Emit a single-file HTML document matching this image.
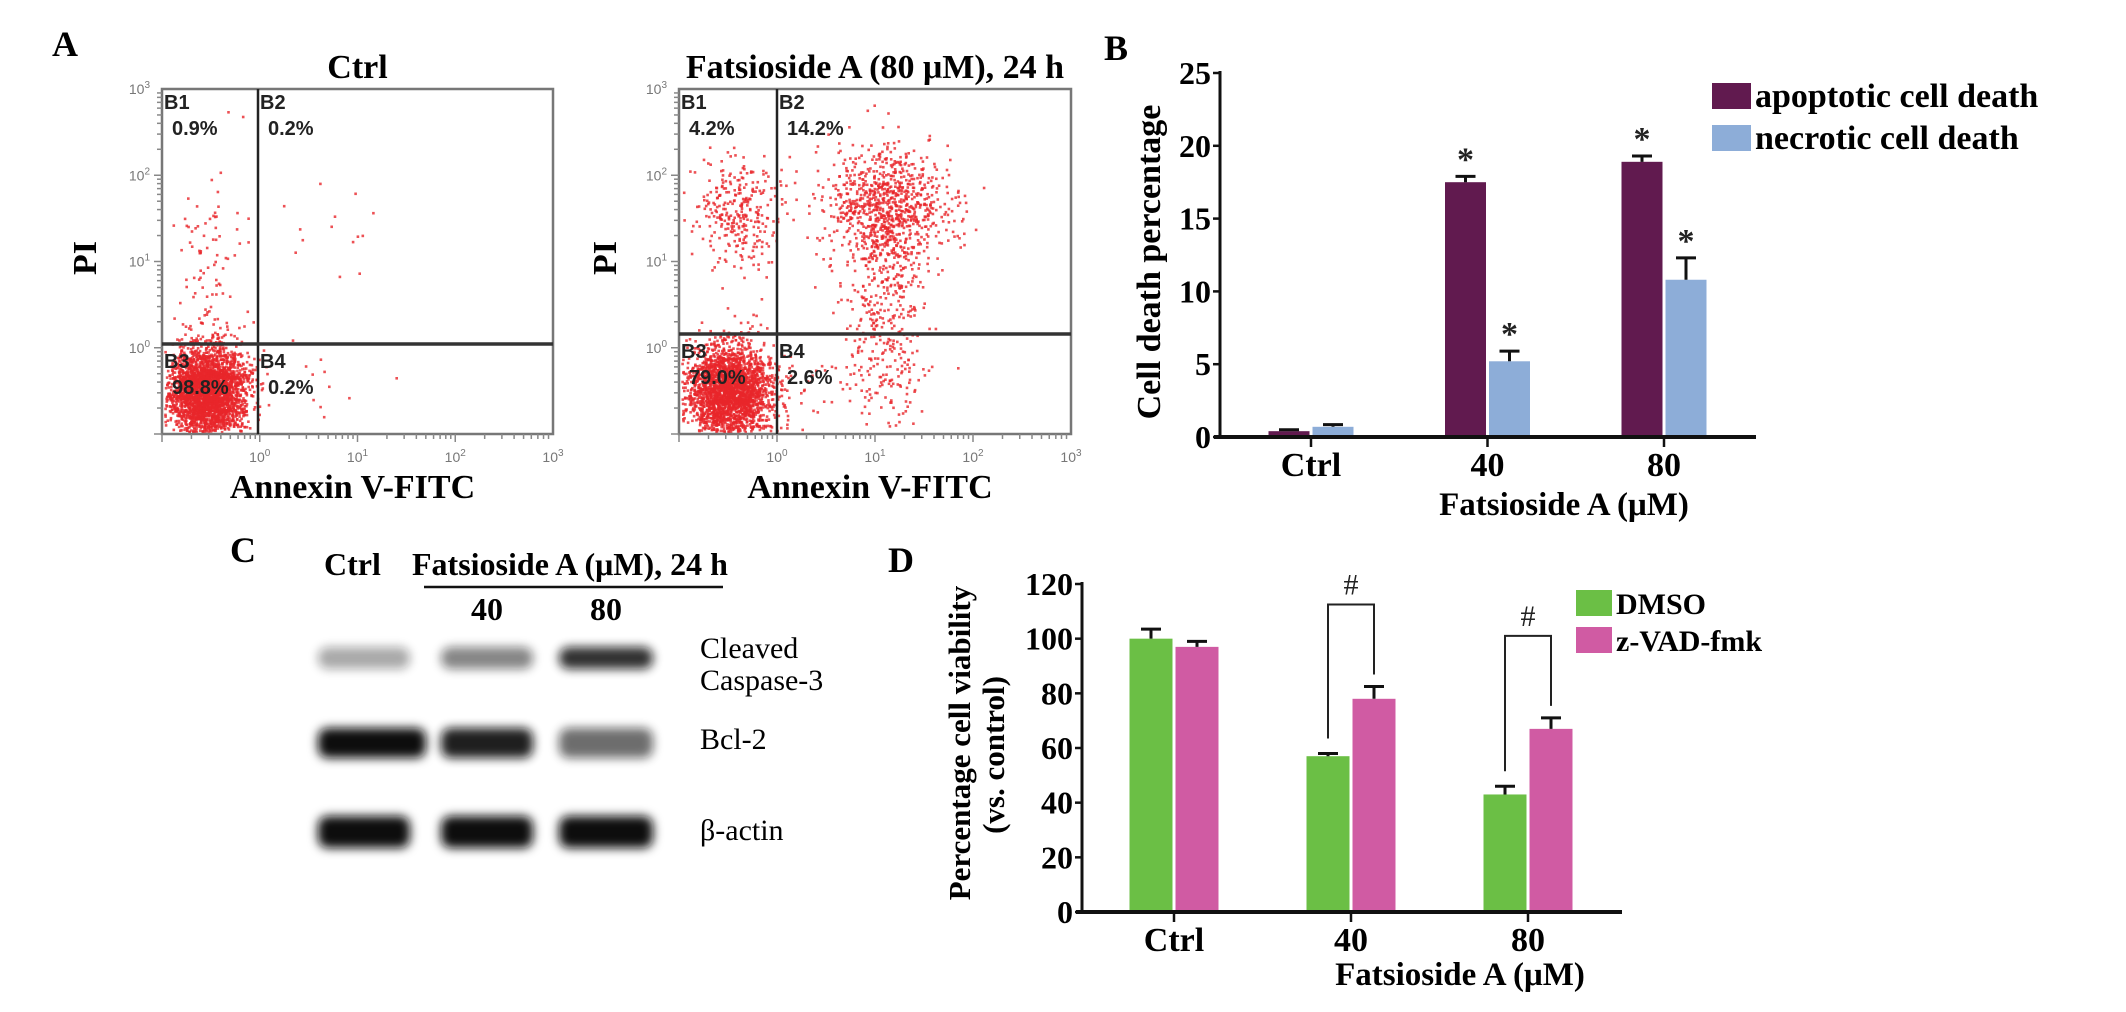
<!DOCTYPE html>
<html><head><meta charset="utf-8"><style>
html,body{margin:0;padding:0;background:#fff;}
svg{display:block;}
text{font-family:"Liberation Serif",serif;}
.b{font-weight:bold;}
.s{font-family:"Liberation Sans",sans-serif;}
</style></head><body>
<svg id="fig" width="2126" height="1012" viewBox="0 0 2126 1012" xmlns="http://www.w3.org/2000/svg">
<defs>
<filter id="blur" x="-20%" y="-60%" width="140%" height="220%"><feGaussianBlur stdDeviation="5"/></filter>
</defs>
<rect width="2126" height="1012" fill="#fff"/>
<text x="52" y="56" class="b" font-size="36">A</text>
<text x="1104" y="60" class="b" font-size="36">B</text>
<text x="230" y="562" class="b" font-size="36">C</text>
<text x="888" y="572" class="b" font-size="36">D</text>

<g id="flowL"></g>
<g id="flowR"></g>
<g id="chartB"></g>
<g id="blot"></g>
<g id="chartD"></g>
</svg>
<script>
// ---------- Panel A data ----------
const flowTitles = ["Ctrl", "Fatsioside A (80 \u03bcM), 24 h"];
const quadLabels = ["B1","B2","B3","B4"];
const ctrlPercents = ["0.9%","0.2%","98.8%","0.2%"];
const treatedPercents = ["4.2%","14.2%","79.0%","2.6%"];
const logTicks = [0,1,2,3];
// cluster definitions: [log10 x center, log10 y center, sd x (decades), sd y (decades), count]
const ctrlClusters = [[-0.55,-0.5,0.2,0.27,3200],[-0.5,1.2,0.15,0.6,80],[0.8,1.6,0.3,0.3,14],[0.6,-0.5,0.4,0.3,12]];
const treatedClusters = [[-0.5,-0.5,0.22,0.27,2600],[-0.4,1.6,0.22,0.32,300],[1.1,1.6,0.32,0.35,900],[1.1,0.6,0.2,0.5,260],[1.0,-0.4,0.35,0.3,110]];

// ---------- Panel B data ----------
const bCategories = ["Ctrl","40","80"];
const apoptotic = [0.4, 17.5, 18.9];
const apoptoticErr = [0.1, 0.4, 0.4];
const necrotic = [0.7, 5.2, 10.8];
const necroticErr = [0.15, 0.7, 1.5];
const bStars = [false, true, true];
const bTicks = [0,5,10,15,20,25];

// ---------- Panel D data ----------
const dCategories = ["Ctrl","40","80"];
const dmso = [100, 57, 43];
const dmsoErr = [3.5, 1, 3];
const zvad = [97, 78, 67];
const zvadErr = [2, 4.5, 4];
const dSig = [false, true, true];
const dTicks = [0,20,40,60,80,100,120];

// ---------- Panel C data ----------
const blotLanes = ["Ctrl","40","80"];
const blotProteins = ["Cleaved Caspase-3","Bcl-2","\u03b2-actin"];
const caspaseIntensity = [0.35, 0.5, 0.85];
const bcl2Intensity = [1.0, 0.92, 0.6];
const actinIntensity = [1.0, 1.0, 1.0];

const NS = "http://www.w3.org/2000/svg";
function mk(tag, attrs, parent, txt){
  const e = document.createElementNS(NS, tag);
  for (const k in attrs) e.setAttribute(k, attrs[k]);
  if (txt !== undefined) e.textContent = txt;
  parent.appendChild(e);
  return e;
}
function rng(seed){return function(){seed|=0;seed=seed+0x6D2B79F5|0;let t=Math.imul(seed^seed>>>15,1|seed);t=t+Math.imul(t^t>>>7,61|t)^t;return((t^t>>>14)>>>0)/4294967296;};}
function gauss(r){let u=r()||1e-9,v=r();return Math.sqrt(-2*Math.log(u))*Math.cos(2*Math.PI*v);}

function flow(gid, x0, x1, hline, vline, title, percents, clusters, seed, piX){
  const g = document.getElementById(gid);
  const y0 = 89, y1 = 434;
  const dx = (x1 - x0) / 4, dy = (y1 - y0) / 4;
  const sx = v => x0 + (v + 1) * dx;
  const sy = v => y1 - (v + 1) * dy;
  let t = mk('text', {x:(x0+x1)/2, y:78, 'text-anchor':'middle', 'font-size':34, class:'b'}, g, title);
  
  
  const r = rng(seed);
  const dots = mk('g', {fill:'#e8262b'}, g);
  
  
  clusters.forEach(c => {
    for (let i = 0; i < c[4]; i++){
      const px = sx(c[0] + gauss(r)*c[2]), py = sy(c[1] + gauss(r)*c[3]);
      if (px < x0+2 || px > x1-3 || py < y0+2 || py > y1-3) continue;
      mk('rect', {x:px.toFixed(1), y:py.toFixed(1), width:2.6, height:2.6, opacity:0.8}, dots);
    }
  });
  const box = mk('rect', {x:x0, y:y0, width:x1-x0, height:y1-y0, fill:'none', stroke:'#777', 'stroke-width':2.5}, g);
  
  
  const vl = mk('line', {x1:vline, x2:vline, y1:y0, y2:y1, stroke:'#222', 'stroke-width':2.5}, g);
  
  
  const hl = mk('line', {x1:x0, x2:x1, y1:hline, y2:hline, stroke:'#333', 'stroke-width':3.5}, g);
  
  
  for (let d = -1; d < 3; d++){
    for (let m = 1; m < 10; m++){
      const v = d + Math.log10(m);
      const L = m === 1 ? 6 : 3;
      mk('line', {x1:sx(v), x2:sx(v), y1:y1, y2:y1+L+2, stroke:'#888', 'stroke-width':1.5}, g);
      mk('line', {x1:x0, x2:x0-L-2, y1:sy(v), y2:sy(v), stroke:'#888', 'stroke-width':1.5}, g);
    }
  }
  logTicks.forEach(v => {
    let a = mk('text', {x:sx(v), y:462, 'text-anchor':'middle', 'font-size':14, fill:'#777', class:'s'}, g);
    
    
    a.innerHTML = '10<tspan dy="-6" font-size="10">' + v + '</tspan>';
    let b = mk('text', {x:x0-12, y:sy(v)+5, 'text-anchor':'end', 'font-size':14, fill:'#777', class:'s'}, g);
    
    
    b.innerHTML = '10<tspan dy="-6" font-size="10">' + v + '</tspan>';
  });
  const qpos = [[x0+2, y0+20],[vline+2, y0+20],[x0+2, hline+24],[vline+2, hline+24]];
  qpos.forEach((p, i) => {
    let q = mk('text', {x:p[0], y:p[1], 'font-size':20, class:'s b', fill:'#222'}, g, quadLabels[i]);
    
    
    let pc = mk('text', {x:p[0]+8, y:p[1]+26, 'font-size':20, class:'s b', fill:'#222'}, g, percents[i]);
    
    
  });
  let yl = mk('text', {x:0, y:0, transform:`translate(${piX},258) rotate(-90)`, 'text-anchor':'middle', 'font-size':34, class:'b'}, g, 'PI');
  
  
  let xl = mk('text', {x:(x0+x1)/2-5, y:498, 'text-anchor':'middle', 'font-size':34, class:'b'}, g, 'Annexin V-FITC');
  
  
}
flow('flowL', 162, 553, 344, 258, flowTitles[0], ctrlPercents, ctrlClusters, 11, 96);
flow('flowR', 679, 1071, 334, 777, flowTitles[1], treatedPercents, treatedClusters, 23, 616);

function barChart(gid, o){
  const g = document.getElementById(gid);
  const sy = v => o.y0 - (v / o.max) * (o.y0 - o.yTop);
  const cx = i => o.cx0 + i * o.step;
  o.series.forEach((s, si) => {
    s.vals.forEach((v, i) => {
      const x = cx(i) - o.bw - o.gap/2 + si * (o.bw + o.gap);
      const r = mk('rect', {x:x, y:sy(v), width:o.bw, height:o.y0 - sy(v), fill:s.color}, g);
      
      
      const m = x + o.bw/2, top = sy(v + s.err[i]);
      const e = mk('path', {d:`M${m},${sy(v)} V${top} M${m-10},${top} H${m+10}`, stroke:'#111', 'stroke-width':3, fill:'none'}, g);
      
      
      if (o.stars && o.stars[i]){
        const st = mk('text', {x:m, y:top - 6, 'text-anchor':'middle', 'font-size':34, class:'b', fill:'#222'}, g, '*');
        
        
      }
    });
  });
  if (o.sig){
    o.sig.forEach((f, i) => {
      if (!f) return;
      const xa = cx(i) - o.gap/2 - o.bw/2, xb = cx(i) + o.gap/2 + o.bw/2;
      const ya = sy(o.series[0].vals[i] + o.series[0].err[i]) - 15;
      const yb = sy(o.series[1].vals[i] + o.series[1].err[i]) - 12;
      const yt = Math.min(ya, yb) - 70;
      const p = mk('path', {d:`M${xa},${ya} V${yt} H${xb} V${yb}`, stroke:'#222', 'stroke-width':2, fill:'none'}, g);
      
      
      const h = mk('text', {x:(xa+xb)/2, y:yt - 10, 'text-anchor':'middle', 'font-size':30, fill:'#222'}, g, '#');
      
      
    });
  }
  const ya = mk('line', {x1:o.x0, x2:o.x0, y1:o.yTop - 2, y2:o.y0 + 2, stroke:'#111', 'stroke-width':3}, g);
  
  
  const xa = mk('line', {x1:o.x0 - 6, x2:o.xEnd, y1:o.y0, y2:o.y0, stroke:'#111', 'stroke-width':4}, g);
  
  
  o.ticks.forEach(v => {
    mk('line', {x1:o.x0 - 7, x2:o.x0, y1:sy(v), y2:sy(v), stroke:'#111', 'stroke-width':2.5}, g);
    const t = mk('text', {x:o.x0 - 9, y:sy(v) + 11, 'text-anchor':'end', 'font-size':32, class:'b'}, g, v);
    
    
  });
  o.cats.forEach((c, i) => {
    mk('line', {x1:cx(i), x2:cx(i), y1:o.y0, y2:o.y0 + 10, stroke:'#111', 'stroke-width':2.5}, g);
    const t = mk('text', {x:cx(i), y:o.y0 + 39, 'text-anchor':'middle', 'font-size':34, class:'b'}, g, c);
    
    
  });
  const xt = mk('text', {x:o.xtX, y:o.xtY, 'text-anchor':'middle', 'font-size':33, class:'b'}, g, 'Fatsioside A (\u03bcM)');
  
  
  o.ylab.forEach(l => {
    const t = mk('text', {x:0, y:0, transform:`translate(${l.x},${l.y}) rotate(-90)`, 'text-anchor':'middle', 'font-size':l.fs, class:'b'}, g, l.t);
    
    
  });
  o.series.forEach((s, si) => {
    const y = o.legY + si * o.legStep;
    const sw = mk('rect', {x:o.legX, y:y - 13, width:o.legSw, height:26, fill:s.color}, g);
    
    
    const t = mk('text', {x:o.legX + o.legSw + 4, y:y + 11, 'font-size':o.legFs, class:'b'}, g, s.label);
    
    
  });
}

barChart('chartB', {
  x0:1220, y0:437, yTop:73, max:25, xEnd:1756, cx0:1311, step:176.5, bw:41, gap:3,
  cats:bCategories, ticks:bTicks, stars:bStars,
  series:[{key:'apoptotic', label:'apoptotic cell death', vals:apoptotic, err:apoptoticErr, color:'#611a4f'},
          {key:'necrotic', label:'necrotic cell death', vals:necrotic, err:necroticErr, color:'#8dadd8'}],
  xtX:1564, xtY:515, ylab:[{x:1160, y:262, fs:34, t:'Cell death percentage'}],
  legX:1712, legY:96, legStep:42, legSw:39, legFs:34
});

barChart('chartD', {
  x0:1082, y0:912, yTop:584, max:120, xEnd:1622, cx0:1174, step:177, bw:43, gap:3,
  cats:dCategories, ticks:dTicks, sig:dSig,
  series:[{key:'dmso', label:'DMSO', vals:dmso, err:dmsoErr, color:'#6bbf45'},
          {key:'zvad', label:'z-VAD-fmk', vals:zvad, err:zvadErr, color:'#d05ba3'}],
  xtX:1460, xtY:985, ylab:[{x:970, y:743, fs:31, t:'Percentage cell viability'},{x:1004, y:755, fs:31, t:'(vs. control)'}],
  legX:1576, legY:603, legStep:37, legSw:36, legFs:30
});

(function(){
  const g = document.getElementById('blot');
  let t = mk('text', {x:324, y:575, 'font-size':32, class:'b'}, g, 'Ctrl');
  
  
  t = mk('text', {x:412, y:575, 'font-size':32, class:'b'}, g, 'Fatsioside A (\u03bcM), 24 h');
  
  
  const ln = mk('line', {x1:424, x2:723, y1:587, y2:587, stroke:'#111', 'stroke-width':2.5}, g);
  
  
  const laneX = [364, 487, 606];
  const laneW = [92, 92, 94];
  [1,2].forEach(i => {
    const l = mk('text', {x:laneX[i], y:620, 'text-anchor':'middle', 'font-size':32, class:'b'}, g, blotLanes[i]);
    
    
  });
  const rows = [{y:658, h:22, vals:caspaseIntensity}, {y:743, h:30, vals:bcl2Intensity}, {y:832, h:32, vals:actinIntensity}];
  rows.forEach((r, ri) => {
    r.vals.forEach((v, i) => {
      const b = mk('rect', {x:laneX[i] - laneW[i]/2, y:r.y - r.h/2, width:laneW[i] + (ri===1&&i===0?16:0), height:r.h, rx:10, fill:'#111', opacity:v, filter:'url(#blur)'}, g);
      
      
    });
  });
  const labels = [['Cleaved',648],['Caspase-3',680],['Bcl-2',739],['\u03b2-actin',830]];
  labels.forEach(l => {
    const e = mk('text', {x:700, y:l[1] + 10, 'font-size':30}, g, l[0]);
    
    
  });
})();
</script>
</body></html>
